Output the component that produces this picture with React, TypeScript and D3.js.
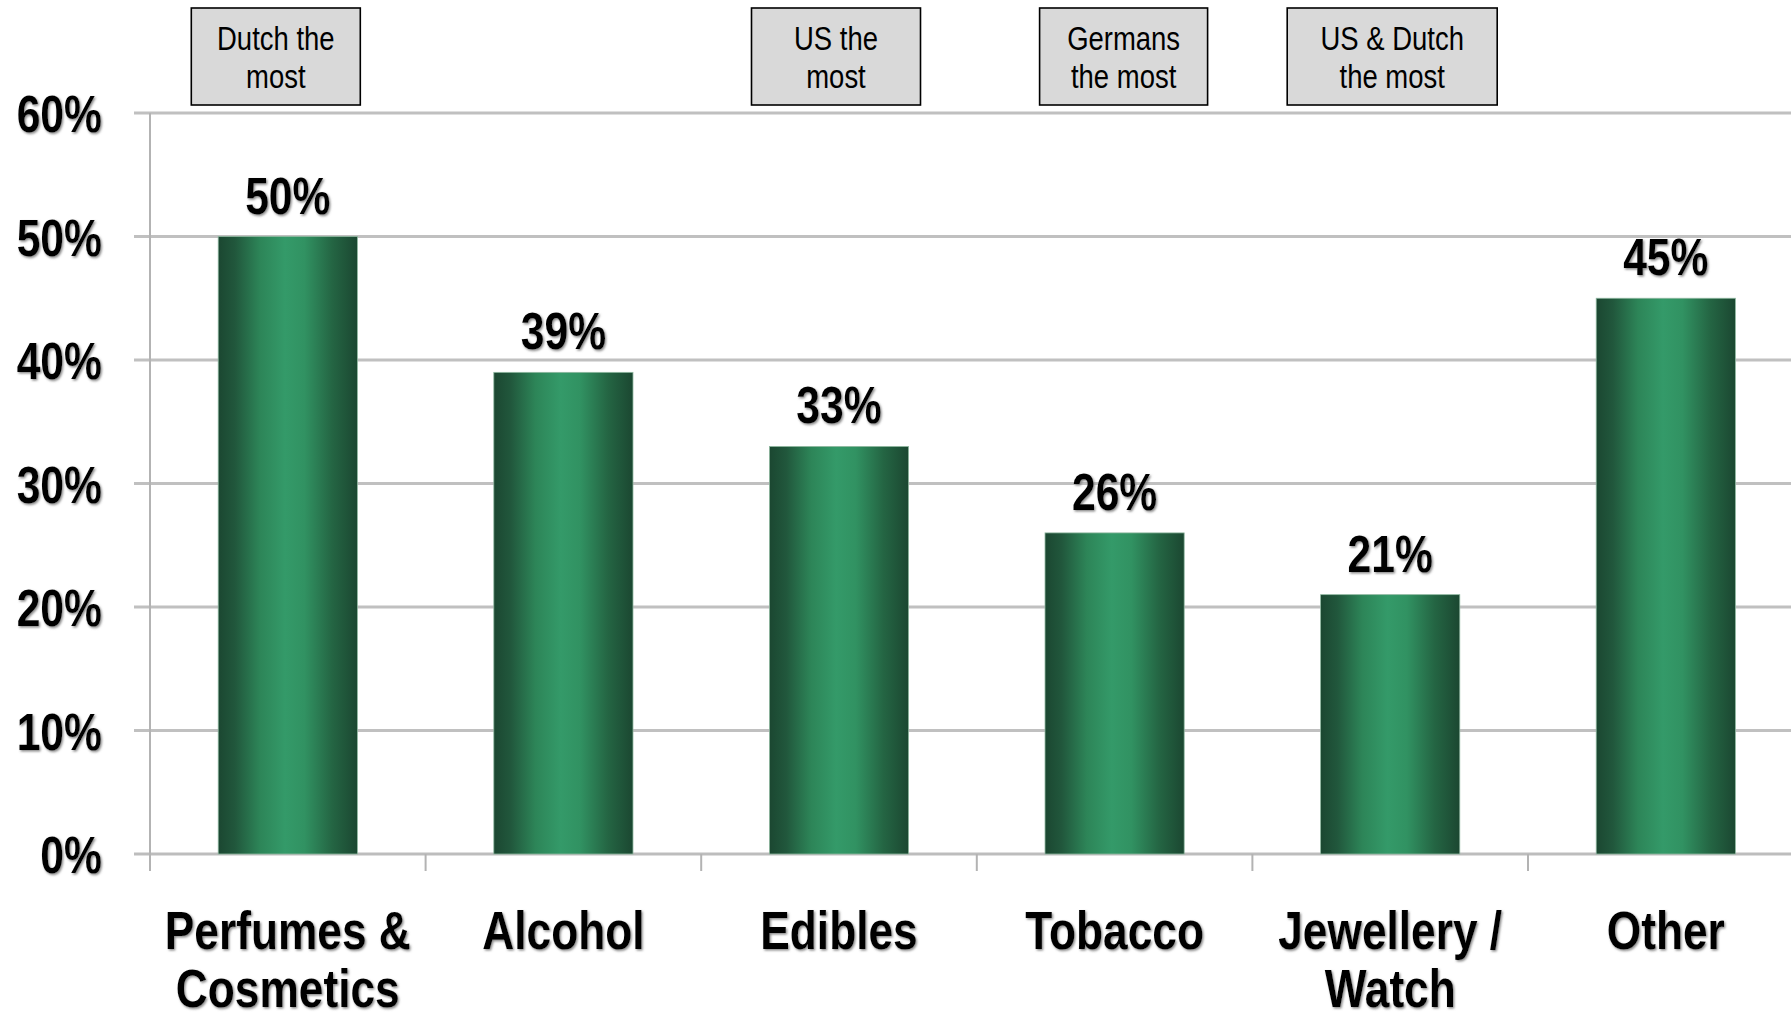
import React from "react";
import * as d3 from "d3";

const categories = ["Perfumes & Cosmetics", "Alcohol", "Edibles", "Tobacco", "Jewellery / Watch", "Other"];
const categoryLines = [["Perfumes &", "Cosmetics"], ["Alcohol"], ["Edibles"], ["Tobacco"], ["Jewellery /", "Watch"], ["Other"]];
const values = [50, 39, 33, 26, 21, 45];
const yTicks = [0, 10, 20, 30, 40, 50, 60];
const annotationCategories = ["Perfumes & Cosmetics", "Edibles", "Tobacco", "Jewellery / Watch"];
const annotationLines = [["Dutch the", "most"], ["US the", "most"], ["Germans", "the most"], ["US & Dutch", "the most"]];

// layout (not data)
const annotationLayout = [
  { dx: -12, w: 169 },
  { dx: -3, w: 169 },
  { dx: 9, w: 168 },
  { dx: 2, w: 210 },
];

const W = 1791;
const H = 1017;
const X0 = 150;
const STEP = 275.6;
const Y0 = 854;
const YTOP = 113;
const FONT = "'Liberation Sans', Arial, sans-serif";
const SX = 0.82;

function NText({
  x,
  y,
  lines,
  size,
  bold,
  anchor,
  lineH,
  shadow,
}: {
  x: number;
  y: number;
  lines: string[];
  size: number;
  bold?: boolean;
  anchor: "start" | "middle" | "end";
  lineH?: number;
  shadow?: boolean;
}) {
  return (
    <g transform={`translate(${x},${y}) scale(${SX},1)`} filter={shadow ? "url(#shadow)" : undefined}>
      <text textAnchor={anchor} fontFamily={FONT} fontWeight={bold ? "bold" : "normal"} fontSize={size} fill="#000">
        {lines.map((ln, j) => (
          <tspan key={j} x={0} y={j * (lineH || 0)}>
            {ln}
          </tspan>
        ))}
      </text>
    </g>
  );
}

export default function App() {
  const x = d3
    .scaleBand<string>()
    .domain(categories)
    .range([X0, X0 + STEP * categories.length])
    .paddingInner(0.495)
    .paddingOuter(0.2475);
  const y = d3.scaleLinear().domain([0, 60]).range([Y0, YTOP]);
  const bw = x.bandwidth();
  const step = x.step();

  return (
    <svg
      width={W}
      height={H}
      style={{ position: "absolute", left: 0, top: 0, display: "block", background: "#fff" }}
    >
      <defs>
        <linearGradient id="barGrad" x1="0" x2="1" y1="0" y2="0">
          <stop offset="0%" stopColor="#1b4731" />
          <stop offset="12%" stopColor="#21573c" />
          <stop offset="30%" stopColor="#2d8558" />
          <stop offset="48%" stopColor="#349a69" />
          <stop offset="62%" stopColor="#319262" />
          <stop offset="82%" stopColor="#246543" />
          <stop offset="100%" stopColor="#1b4731" />
        </linearGradient>
        <filter id="shadow" x="-10%" y="-20%" width="130%" height="150%">
          <feDropShadow dx="1.5" dy="1.5" stdDeviation="1" floodColor="#7a7a7a" floodOpacity="0.9" />
        </filter>
      </defs>

      {/* gridlines */}
      {yTicks.map((t) => (
        <line
          key={"g" + t}
          x1={X0 - 16}
          x2={W}
          y1={y(t)}
          y2={y(t)}
          stroke={t === 0 ? "#bdbdbd" : "#c0c0c0"}
          strokeWidth={3}
        />
      ))}
      {/* y axis line */}
      <line x1={X0} x2={X0} y1={YTOP} y2={Y0 + 17} stroke="#b3b3b3" strokeWidth={2} />
      {/* category ticks */}
      {d3.range(categories.length + 1).map((i) => (
        <line
          key={"t" + i}
          x1={X0 + i * step}
          x2={X0 + i * step}
          y1={Y0}
          y2={Y0 + 17}
          stroke="#b3b3b3"
          strokeWidth={2}
        />
      ))}

      {/* bars */}
      {categories.map((c, i) => (
        <rect
          key={"b" + c}
          x={x(c)}
          y={y(values[i])}
          width={bw}
          height={Y0 - y(values[i])}
          fill="url(#barGrad)"
          stroke="#8fb8a0"
          strokeWidth={0.8}
        />
      ))}

      {/* y tick labels */}
      {yTicks.map((t) => (
        <NText key={"yl" + t} x={102} y={y(t) + 19} lines={[t + "%"]} size={52} bold anchor="end" shadow />
      ))}

      {/* value labels */}
      {categories.map((c, i) => (
        <NText
          key={"v" + c}
          x={(x(c) as number) + bw / 2}
          y={y(values[i]) - 23}
          lines={[values[i] + "%"]}
          size={52}
          bold
          anchor="middle"
          shadow
        />
      ))}

      {/* category labels */}
      {categories.map((c, i) => (
        <NText
          key={"c" + c}
          x={(x(c) as number) + bw / 2}
          y={949}
          lines={categoryLines[i]}
          size={54}
          lineH={58}
          bold
          anchor="middle"
          shadow
        />
      ))}

      {/* annotation boxes */}
      {annotationCategories.map((c, i) => {
        const cx = (x(c) as number) + bw / 2 + annotationLayout[i].dx;
        const w = annotationLayout[i].w;
        return (
          <g key={"a" + c}>
            <rect x={cx - w / 2} y={8} width={w} height={97} fill="#d9d9d9" stroke="#000" strokeWidth={1.6} />
            <NText x={cx} y={50} lines={annotationLines[i]} size={33.5} lineH={38} anchor="middle" />
          </g>
        );
      })}
    </svg>
  );
}
